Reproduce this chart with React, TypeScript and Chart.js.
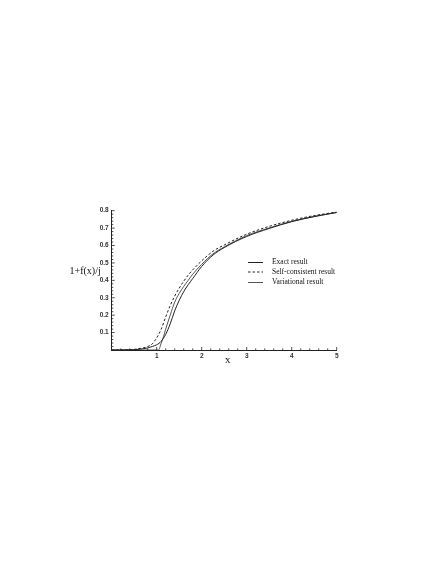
import React, { useEffect, useRef } from 'react';
import { Chart, registerables } from 'chart.js';
Chart.register(...registerables);

const xGrid = [0, 0.2, 0.4, 0.6, 0.8, 0.9, 1.0, 1.1, 1.2, 1.3, 1.4, 1.5, 1.6, 1.7, 1.8, 2.0, 2.25, 2.5, 3, 3.5, 4, 4.5, 5];
const exactY = [0, 0, 0.001, 0.004, 0.012, 0.02, 0.03, 0.05, 0.09, 0.15, 0.225, 0.285, 0.335, 0.375, 0.41, 0.48, 0.545, 0.588, 0.652, 0.698, 0.737, 0.766, 0.79];
const selfY = [0, 0, 0.002, 0.007, 0.02, 0.035, 0.07, 0.12, 0.19, 0.255, 0.31, 0.355, 0.395, 0.43, 0.46, 0.512, 0.567, 0.603, 0.665, 0.71, 0.745, 0.772, 0.792];
const varX = [0, 1.0, 1.04, 1.1, 1.15, 1.2, 1.3, 1.4, 1.5, 1.6, 1.7, 1.8, 2.0, 2.25, 2.5, 3, 3.5, 4, 4.5, 5];
const varY = [0, 0, 0, 0.04, 0.075, 0.12, 0.2, 0.275, 0.325, 0.365, 0.4, 0.435, 0.492, 0.552, 0.592, 0.657, 0.701, 0.739, 0.767, 0.79];

const seriesLabels = ['Exact result', 'Self-consistent result', 'Variational result'];
const xTicks = [1, 2, 3, 4, 5];
const yTicks = [0.1, 0.2, 0.3, 0.4, 0.5, 0.6, 0.7, 0.8];
const yTitle = '1+f(x)/j';
const xTitle = 'x';

const decor = {
  id: 'decor',
  afterDraw(chart: any) {
    const ctx = chart.ctx;
    const xs = chart.scales.x;
    const ys = chart.scales.y;
    const x0 = xs.getPixelForValue(0);
    const y0 = ys.getPixelForValue(0);
    ctx.save();
    ctx.strokeStyle = '#222';
    ctx.lineWidth = 0.8;
    for (let v = 0.2; v <= 5.001; v += 0.2) {
      const major = Math.abs(v - Math.round(v)) < 1e-6;
      const px = xs.getPixelForValue(v);
      ctx.beginPath();
      ctx.moveTo(px, y0);
      ctx.lineTo(px, y0 - (major ? 3 : 1.6));
      ctx.stroke();
    }
    for (let v = 0.02; v <= 0.8001; v += 0.02) {
      const major = Math.abs(v * 10 - Math.round(v * 10)) < 1e-6;
      const py = ys.getPixelForValue(v);
      ctx.beginPath();
      ctx.moveTo(x0, py);
      ctx.lineTo(x0 + (major ? 3 : 1.6), py);
      ctx.stroke();
    }
    ctx.fillStyle = '#111';
    ctx.font = '10px "Liberation Serif"';
    ctx.textAlign = 'right';
    ctx.textBaseline = 'middle';
    ctx.fillText(yTitle, x0 - 11, ys.getPixelForValue(0.45));
    ctx.textAlign = 'center';
    ctx.font = '11px "Liberation Serif"';
    ctx.fillText(xTitle, xs.getPixelForValue(2.58), y0 + 10);
    const lx = 248, lw = 15, tx = 272;
    const rows = [262.5, 272, 282.5];
    ctx.font = '7.5px "Liberation Serif"';
    ctx.textAlign = 'left';
    chart.data.datasets.forEach((ds: any, i: number) => {
      ctx.beginPath();
      ctx.strokeStyle = ds.borderColor;
      ctx.lineWidth = ds.borderWidth;
      ctx.setLineDash(ds.borderDash || []);
      ctx.moveTo(lx, rows[i]);
      ctx.lineTo(lx + lw, rows[i]);
      ctx.stroke();
      ctx.setLineDash([]);
      ctx.fillStyle = '#111';
      ctx.fillText(ds.label, tx, rows[i]);
    });
    ctx.restore();
  },
};

export default function App() {
  const ref = useRef<HTMLCanvasElement>(null);
  useEffect(() => {
    if (!ref.current) return;
    const chart = new Chart(ref.current, {
      type: 'line',
      data: {
        datasets: [
          {
            label: seriesLabels[0],
            data: xGrid.map((x, i) => ({ x, y: exactY[i] })),
            borderColor: '#222',
            borderWidth: 1,
            pointRadius: 0,
            cubicInterpolationMode: 'monotone',
          },
          {
            label: seriesLabels[1],
            data: xGrid.map((x, i) => ({ x, y: selfY[i] })),
            borderColor: '#222',
            borderWidth: 1,
            borderDash: [2.5, 2],
            pointRadius: 0,
            cubicInterpolationMode: 'monotone',
          },
          {
            label: seriesLabels[2],
            data: varX.map((x, i) => ({ x, y: varY[i] })),
            borderColor: '#555',
            borderWidth: 1,
            pointRadius: 0,
            cubicInterpolationMode: 'monotone',
          },
        ],
      },
      options: {
        animation: false,
        responsive: false,
        devicePixelRatio: 1,
        layout: { padding: { left: 91.7, right: 102.3, top: 210.7, bottom: 202 } },
        plugins: { legend: { display: false }, tooltip: { enabled: false } },
        scales: {
          x: {
            type: 'linear',
            min: 0,
            max: 5,
            afterFit: (s: any) => { s.height = 15; },
            afterBuildTicks: (s: any) => { s.ticks = xTicks.map((v) => ({ value: v })); },
            ticks: { font: { size: 6.5, family: 'Liberation Sans', weight: 'bold' }, color: '#333', padding: 2, maxRotation: 0 },
            grid: { drawOnChartArea: false, drawTicks: false },
            border: { color: '#222', width: 1 },
          },
          y: {
            type: 'linear',
            min: 0,
            max: 0.8,
            afterFit: (s: any) => { s.width = 20; },
            afterBuildTicks: (s: any) => { s.ticks = yTicks.map((v) => ({ value: v })); },
            ticks: { font: { size: 6.5, family: 'Liberation Sans', weight: 'bold' }, color: '#333', padding: 3, callback: (v: any) => Number(v).toFixed(1) },
            grid: { drawOnChartArea: false, drawTicks: false },
            border: { color: '#222', width: 1 },
          },
        },
      },
      plugins: [decor],
    });
    return () => chart.destroy();
  }, []);
  return (
    <div style={{ position: 'fixed', left: 0, top: 0, width: 439, height: 567, background: '#fff' }}>
      <canvas ref={ref} width={439} height={567} style={{ width: 439, height: 567 }} />
    </div>
  );
}
